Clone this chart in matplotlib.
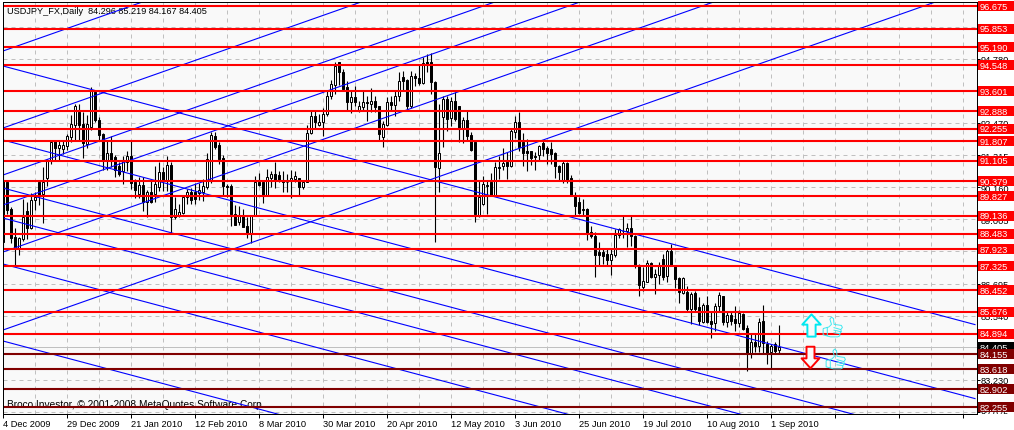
import numpy as np
import matplotlib
matplotlib.use('Agg')
import matplotlib.pyplot as plt
from matplotlib.path import Path
from matplotlib.transforms import Bbox, TransformedBbox

plt.rcParams['font.family'] = ['Liberation Sans', 'DejaVu Sans']

# candles (one row = 10 bars)
opens = [
    90.40, 90.33, 89.37, 88.38, 87.97, 88.29, 89.31, 88.71, 89.70, 90.33,
    89.91, 90.49, 91.09, 91.81, 91.57, 91.54, 91.65, 91.95, 92.41, 92.86,
    92.43, 91.71, 92.31, 93.60, 92.59, 92.07, 91.14, 91.39, 91.23, 90.93,
    90.73, 91.05, 91.29, 90.36, 89.91, 90.24, 89.61, 89.97, 89.91, 90.15,
    90.69, 90.39, 90.96, 89.10, 89.17, 89.22, 89.79, 89.97, 89.97, 89.94,
    90.00, 90.15, 90.39, 91.99, 91.68, 91.20, 90.21, 90.19, 89.19, 88.92,
    89.13, 88.77, 88.50, 89.13, 90.33, 90.33, 89.88, 90.48, 90.63, 90.60,
    90.37, 90.35, 90.39, 90.45, 90.48, 90.15, 90.33, 92.11, 92.71, 92.40,
    92.52, 92.79, 93.43, 93.85, 94.65, 94.31, 93.75, 93.24, 93.39, 92.93,
    93.05, 93.21, 93.15, 93.25, 93.09, 91.98, 92.40, 93.21, 93.11, 93.45,
    94.11, 94.03, 93.09, 94.15, 94.07, 93.91, 94.65, 94.65, 93.95, 90.84,
    92.67, 93.33, 92.64, 93.27, 93.07, 92.28, 92.59, 92.04, 91.77, 89.16,
    89.55, 90.19, 90.33, 89.88, 90.88, 90.93, 91.08, 90.91, 92.16, 92.52,
    91.77, 91.47, 91.47, 91.29, 91.32, 91.75, 91.56, 91.53, 91.39, 90.93,
    90.39, 91.03, 90.48, 89.88, 89.61, 89.36, 89.37, 88.54, 88.39, 87.82,
    87.84, 87.76, 87.54, 87.72, 88.44, 88.60, 88.60, 88.69, 88.42, 87.36,
    86.58, 86.76, 87.43, 86.94, 87.00, 87.58, 86.95, 87.88, 87.36, 86.88,
    86.35, 86.40, 85.78, 86.34, 85.84, 85.32, 85.92, 85.36, 85.26, 85.87,
    86.23, 85.32, 85.56, 85.42, 85.27, 85.60, 85.08, 84.20, 84.58, 84.46,
    85.34, 84.52, 84.22, 84.52, 84.296]
highs = [
    90.78, 90.40, 89.46, 88.69, 88.38, 89.73, 89.61, 89.94, 89.97, 90.39,
    90.90, 91.17, 91.81, 91.85, 91.81, 91.81, 92.07, 92.77, 93.15, 93.15,
    92.85, 92.77, 93.75, 93.65, 92.70, 92.10, 91.81, 92.01, 91.33, 91.05,
    91.29, 91.45, 91.81, 90.45, 90.51, 90.51, 90.06, 90.37, 90.93, 91.05,
    90.87, 91.29, 91.05, 89.80, 89.55, 89.85, 90.09, 90.13, 90.30, 90.30,
    90.45, 91.39, 92.13, 92.13, 91.77, 91.32, 90.27, 90.27, 89.52, 89.49,
    89.37, 89.07, 89.16, 90.57, 90.67, 90.33, 90.81, 90.75, 91.05, 90.75,
    90.75, 90.63, 90.79, 90.75, 90.48, 90.39, 92.40, 92.95, 92.95, 92.79,
    92.99, 93.67, 94.03, 94.67, 94.67, 94.41, 93.99, 93.63, 93.81, 93.27,
    93.63, 93.45, 93.71, 93.45, 93.09, 92.55, 93.39, 93.45, 93.63, 94.31,
    94.35, 94.05, 94.35, 94.27, 94.59, 94.83, 94.95, 94.99, 93.97, 93.15,
    93.45, 93.45, 93.39, 93.57, 93.09, 92.67, 92.95, 92.13, 91.83, 90.39,
    90.57, 90.39, 90.67, 91.08, 91.27, 91.56, 91.41, 92.25, 92.73, 92.88,
    92.11, 91.89, 91.47, 91.41, 91.67, 91.87, 91.65, 91.77, 91.44, 90.95,
    91.11, 91.05, 90.60, 90.00, 89.79, 89.73, 89.40, 88.75, 88.54, 88.20,
    87.96, 87.94, 87.96, 88.66, 88.68, 89.11, 88.87, 89.14, 88.44, 87.40,
    87.30, 87.55, 87.46, 87.22, 87.46, 87.76, 87.94, 88.12, 87.36, 86.92,
    86.92, 86.59, 86.38, 86.44, 86.20, 85.99, 86.23, 85.66, 85.99, 86.38,
    86.26, 85.66, 85.72, 85.90, 85.75, 85.63, 85.20, 84.91, 84.88, 85.44,
    85.92, 84.64, 84.52, 84.60, 85.219]
lows = [
    87.87, 89.20, 88.17, 87.33, 87.73, 88.23, 88.29, 88.65, 89.34, 89.53,
    88.89, 90.21, 91.00, 91.14, 91.11, 91.35, 91.50, 91.80, 91.85, 91.83,
    91.21, 91.57, 92.20, 92.50, 91.85, 90.78, 90.78, 90.87, 90.54, 90.57,
    90.27, 90.73, 90.09, 89.76, 89.77, 89.31, 89.10, 89.58, 89.61, 90.03,
    90.03, 90.03, 88.53, 89.00, 89.10, 89.19, 89.55, 89.55, 89.55, 89.70,
    89.67, 90.09, 90.30, 91.55, 90.99, 89.85, 89.80, 88.77, 88.80, 88.80,
    88.72, 88.32, 88.17, 89.13, 90.19, 89.59, 89.85, 90.15, 90.13, 90.33,
    89.97, 89.97, 89.76, 90.33, 89.88, 90.09, 90.33, 92.07, 92.25, 92.35,
    91.99, 92.73, 93.33, 93.51, 93.83, 93.63, 92.91, 92.83, 93.07, 92.85,
    92.91, 92.55, 92.85, 92.85, 91.83, 91.59, 92.37, 92.91, 92.73, 93.27,
    93.63, 92.97, 92.99, 93.81, 93.83, 93.87, 94.29, 93.51, 88.20, 90.00,
    91.59, 92.19, 92.35, 92.55, 91.77, 91.75, 91.87, 91.47, 88.92, 89.10,
    89.52, 89.19, 89.85, 89.85, 90.45, 90.79, 90.45, 90.87, 91.92, 91.47,
    90.91, 90.75, 90.96, 90.79, 91.11, 91.29, 90.99, 90.99, 90.48, 90.43,
    90.31, 90.31, 89.83, 89.17, 89.19, 89.13, 88.27, 88.32, 86.92, 87.36,
    87.40, 87.34, 87.00, 87.64, 88.32, 88.32, 88.00, 88.06, 87.24, 86.26,
    86.44, 86.74, 86.88, 86.32, 86.68, 86.82, 86.76, 87.34, 86.52, 85.99,
    86.32, 85.66, 85.24, 85.72, 85.20, 85.27, 85.27, 84.72, 85.00, 85.72,
    85.20, 85.12, 85.20, 85.00, 85.12, 85.03, 83.56, 84.00, 84.24, 84.22,
    84.20, 83.80, 83.64, 84.16, 84.167]
closes = [
    88.20, 89.34, 88.35, 87.97, 88.33, 89.10, 88.71, 89.70, 89.82, 89.85,
    90.33, 91.09, 91.77, 91.57, 91.68, 91.68, 91.99, 92.43, 93.09, 92.41,
    91.74, 92.43, 93.63, 92.59, 92.05, 91.14, 91.39, 91.14, 90.78, 90.63,
    91.09, 91.29, 90.30, 90.06, 90.24, 89.61, 89.97, 89.61, 90.27, 90.69,
    90.39, 90.96, 89.10, 89.37, 89.25, 89.79, 89.97, 89.70, 89.73, 90.06,
    90.21, 91.17, 92.04, 91.59, 91.17, 90.19, 90.15, 89.19, 88.80, 89.13,
    88.74, 88.50, 89.13, 90.33, 90.24, 89.88, 90.51, 90.63, 90.39, 90.39,
    90.35, 90.33, 90.48, 90.55, 90.15, 90.33, 92.11, 92.71, 92.49, 92.52,
    92.79, 93.43, 93.87, 94.53, 94.31, 93.69, 93.24, 93.39, 93.24, 93.07,
    93.21, 93.19, 93.25, 93.03, 92.07, 92.43, 93.21, 93.11, 93.45, 93.99,
    93.99, 93.09, 94.15, 94.07, 93.91, 94.63, 94.55, 93.93, 90.87, 91.39,
    93.33, 92.61, 93.27, 92.61, 92.28, 92.59, 91.99, 91.50, 89.19, 89.79,
    90.27, 90.24, 89.88, 90.87, 90.86, 91.03, 90.91, 92.19, 92.49, 91.59,
    91.39, 91.39, 91.20, 91.25, 91.65, 91.53, 91.39, 91.35, 90.91, 90.72,
    91.03, 90.43, 89.88, 89.47, 89.23, 89.34, 88.50, 88.39, 87.72, 87.72,
    87.70, 87.54, 87.76, 88.44, 88.66, 88.59, 88.69, 88.39, 87.34, 86.64,
    86.80, 87.43, 86.94, 87.04, 87.36, 86.92, 87.88, 87.36, 86.86, 86.38,
    86.88, 85.78, 86.32, 85.78, 85.36, 85.92, 85.32, 85.24, 85.87, 86.28,
    85.32, 85.56, 85.36, 85.27, 85.63, 85.06, 84.20, 84.58, 84.46, 85.32,
    84.55, 84.20, 84.46, 84.28, 84.405]

# date labels sit on every 16th bar
date_labels = ['4 Dec 2009', '29 Dec 2009', '21 Jan 2010', '12 Feb 2010', '8 Mar 2010',
               '30 Mar 2010', '20 Apr 2010', '12 May 2010', '3 Jun 2010', '25 Jun 2010',
               '19 Jul 2010', '10 Aug 2010', '1 Sep 2010']

# horizontal levels
red_levels = [96.675, 95.853, 95.190, 94.548, 93.601, 92.888, 92.255, 91.807, 91.105,
              90.379, 89.827, 89.136, 88.483, 87.923, 87.325, 86.452, 85.676, 84.894]
dark_levels = [84.155, 83.618, 82.902, 82.255]
last_price = 84.405

# price scale of the terminal; three of these have their label fully under a level box
price_ticks = [95.935, 94.780, 93.625, 92.470, 91.315, 90.160, 89.005, 87.850,
               86.695, 85.540, 83.230, 82.075]
hidden_ticks = [95.935, 93.625, 87.850]

# channel lines, price at bar 0 and at bar 243
rising_start = [95.057, 92.288, 90.598, 89.519, 87.829, 85.024]
rising_end = [107.350, 104.586, 102.896, 101.817, 100.127, 97.322]
falling_start = [94.518, 91.857, 90.130, 89.052, 87.398, 84.629]
falling_end = [85.219, 82.558, 80.832, 79.753, 78.099, 75.330]

# signal symbols: bar, price
up_arrow = (202.0, 85.20)
down_arrow = (201.75, 84.04)
thumb_top = (207.3, 85.13)
thumb_bottom = (208.0, 83.98)

BG = '#f9f9f9'
RED = '#ff0000'
MAROON = '#800000'
BLUE = '#0000ff'
GRID = '#c0c0c0'
FS = 6.7


def arrow_marker(up=True):
    """Hollow block arrow as a custom marker"""
    s = 1 if up else -1
    pts = [(0, s), (0.83, 0.08 * s), (0.37, 0.08 * s), (0.37, -s),
           (-0.37, -s), (-0.37, 0.08 * s), (-0.83, 0.08 * s), (0, s)]
    return Path(pts, closed=True)


def thumb_marker():
    """Thumbs-up outline, no installed font has this symbol"""
    hand = [(-0.9, -0.1), (-0.35, 0.05), (-0.1, 0.3), (-0.25, 0.8), (-0.1, 1.0), (0.1, 0.85),
            (0.15, 0.3), (0.85, 0.2), (0.95, 0.0), (0.8, -0.2), (0.85, -0.4), (0.7, -0.6),
            (0.7, -0.8), (0.5, -0.9), (-0.2, -0.9), (-0.9, -0.7), (-0.9, -0.1)]
    lines = [[(-0.5, -0.02), (-0.5, -0.82)], [(0.1, 0.0), (0.8, -0.2)],
             [(0.1, -0.25), (0.8, -0.4)], [(0.1, -0.5), (0.7, -0.6)]]
    verts = list(hand)
    codes = [Path.MOVETO] + [Path.LINETO] * (len(hand) - 1)
    for seg in lines:
        verts += seg
        codes += [Path.MOVETO, Path.LINETO]
    return Path(verts, codes)


fig = plt.figure(figsize=(10.14, 4.31), dpi=100, facecolor='white')
ax = fig.add_axes([2.5 / 1014, 1 - 414.5 / 431, 974 / 1014, 412 / 431], facecolor=BG)
ax.set_xlim(-0.125, 243.375)
ax.set_ylim(82.022, 96.837)
ax.set_axisbelow(True)

# grid
major = np.arange(0, 244, 16)
ax.set_xticks(major)
ax.set_xticklabels(date_labels + [''] * (len(major) - len(date_labels)), ha='left', fontsize=FS)
ax.set_xticks(np.arange(8, 244, 16), minor=True)
ax.yaxis.tick_right()
ax.set_yticks(price_ticks)
ax.set_yticklabels(['' if p in hidden_ticks else '%.3f' % p for p in price_ticks], fontsize=FS)
ax.tick_params(axis='x', which='major', length=3, width=0.72, pad=1)
ax.tick_params(axis='x', which='minor', length=0)
ax.tick_params(axis='y', length=2, width=0.72, pad=1)
ax.grid(True, which='both', color=GRID, lw=0.72, ls=(0, (4, 4)))
for side in ax.spines.values():
    side.set_linewidth(0.72)
    side.set_zorder(10)

# the lowest price label is cut off at the bottom of the chart in the terminal
bottom_clip = TransformedBbox(Bbox([[0.95, 16.5 / 431], [1, 1]]), fig.transFigure)
for lab in ax.get_yticklabels():
    lab.set_clip_box(bottom_clip)
    lab.set_clip_on(True)

ax.axhline(last_price, color=GRID, lw=0.72, zorder=1)

# text under the levels
ax.text(1.0, 96.52, 'USDJPY_FX,Daily  84.296 85.219 84.167 84.405', fontsize=6.6,
        va='center', ha='left', zorder=1.5)
ax.text(1.0, 82.35, 'Broco Investor, \u00a9 2001-2008 MetaQuotes Software Corp.', fontsize=7.3,
        va='center', ha='left', zorder=1.5)

# candles
x = np.arange(len(opens))
o, h, l, c = map(np.array, (opens, highs, lows, closes))
ax.vlines(x, l, h, color='black', lw=0.8, zorder=2)
colors = ['white' if cc >= oo else 'black' for oo, cc in zip(o, c)]
ax.bar(x, np.abs(c - o), bottom=np.minimum(o, c), width=0.62, color=colors,
       edgecolor='black', linewidth=0.72, zorder=2.2)

# channels
for a, b in zip(rising_start, rising_end):
    ax.plot([0, 243], [a, b], color=BLUE, lw=0.8, zorder=3)
for a, b in zip(falling_start, falling_end):
    ax.plot([0, 243], [a, b], color=BLUE, lw=0.8, zorder=3)

# levels with their boxes on the price scale
box_h = 0.36
for levels, col in ((red_levels, RED), (dark_levels, MAROON)):
    for p in levels:
        ax.axhline(p, color=col, lw=1.5, zorder=4)

# the last price box goes under the level boxes
ax.bar(248.25, box_h, bottom=last_price - box_h / 2, width=9, color='black', clip_on=False, zorder=5)
ax.text(244.2, last_price, '%.3f' % last_price, color='white', fontsize=FS, va='center',
        ha='left', clip_on=False, zorder=5.1)
for levels, col in ((red_levels, RED), (dark_levels, MAROON)):
    for p in levels:
        ax.bar(248.25, box_h, bottom=p - box_h / 2, width=9, color=col, clip_on=False, zorder=6)
        ax.text(244.2, p, '%.3f' % p, color='white', fontsize=FS, va='center', ha='left',
                clip_on=False, zorder=6.1)

# signals
ax.plot(up_arrow[0], up_arrow[1], marker=arrow_marker(True), ms=16, mfc=BG, mec='#00e8f0',
        mew=1.4, zorder=7)
ax.plot(down_arrow[0], down_arrow[1], marker=arrow_marker(False), ms=15.5, mfc=BG, mec=RED,
        mew=1.4, zorder=7)
for pos in (thumb_top, thumb_bottom):
    ax.plot(pos[0], pos[1], marker=thumb_marker(), ms=15, mfc='none', mec='#40e8f0',
            mew=0.7, zorder=7)

fig.savefig('out.png', dpi=100, facecolor='white')
